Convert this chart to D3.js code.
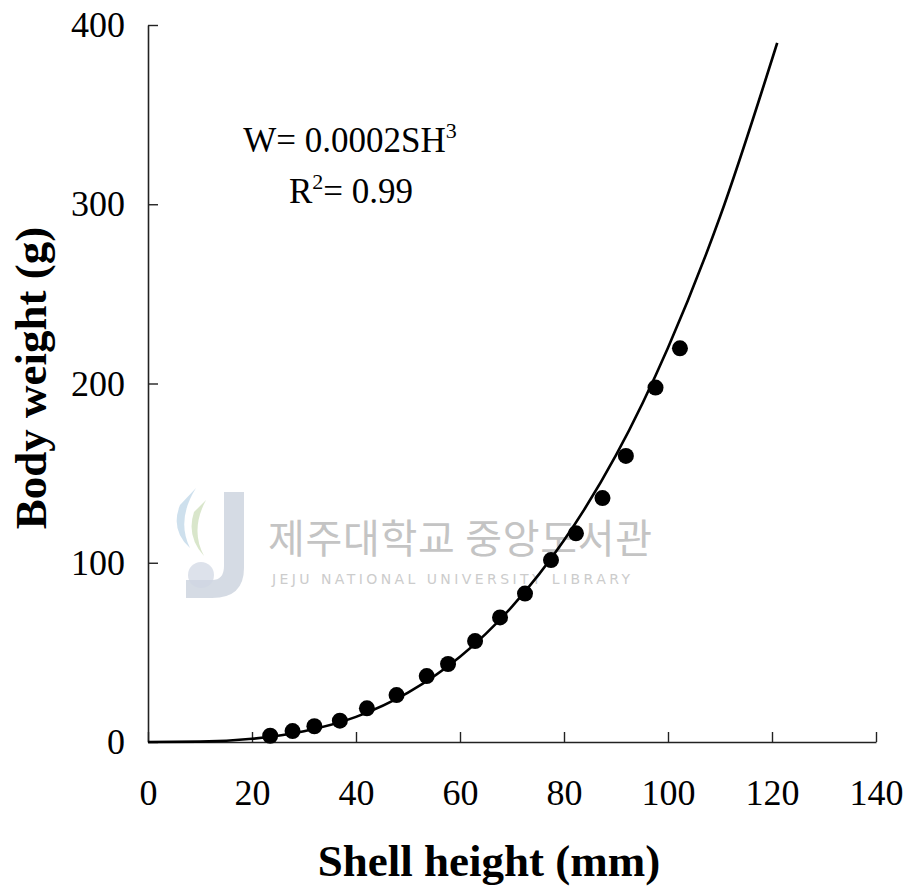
<!DOCTYPE html>
<html>
<head>
<meta charset="utf-8">
<script src="https://cdn.jsdelivr.net/npm/d3@7"></script>
<style>
  body { margin: 0; background: #fff; }
  svg { display: block; }
</style>
</head>
<body>
<div id="chart"></div>
<script>
// observed points (shell height mm, body weight g)
const shellHeight = [23.5, 27.8, 32.0, 36.9, 42.1, 47.8, 53.6, 57.7, 62.9, 67.7, 72.5, 77.5, 82.3, 87.4, 91.9, 97.6, 102.3];
const bodyWeight  = [3.5, 6.1, 8.8, 11.9, 18.8, 26.2, 36.8, 43.5, 56.3, 69.5, 82.8, 101.5, 116.4, 136.1, 159.6, 197.7, 219.6];

// fitted curve
const fitX = [0, 10, 20, 30, 40, 50, 60, 70, 80, 90, 100, 110, 121];
const fitY = [0, 0.2, 1.8, 6, 14, 27.5, 47.5, 75.5, 112.5, 160, 220, 293, 390];

const xTicks = [0, 20, 40, 60, 80, 100, 120, 140];
const yTicks = [0, 100, 200, 300, 400];

const width = 911, height = 890;
const serif = "'Liberation Serif', 'Times New Roman', serif";

const x = d3.scaleLinear().domain([0, 140]).range([148, 876]);
const y = d3.scaleLinear().domain([0, 400]).range([742, 25]);

const svg = d3.select("#chart").append("svg")
    .attr("width", width)
    .attr("height", height)
    .attr("font-family", serif);

// watermark (library stamp)
const wm = svg.append("g");
wm.append("path")
    .attr("d", "M224,492 L244,492 L244,568 Q244,598 212,598 L186,598 L186,580 L212,580 Q224,580 224,566 Z")
    .attr("fill", "#c3ccd8").attr("opacity", 0.7);
wm.append("path")
    .attr("d", "M196,488 Q176,520 190,548 Q170,530 180,505 Z")
    .attr("fill", "#b9d3e6").attr("opacity", 0.7);
wm.append("path")
    .attr("d", "M206,500 Q190,530 204,556 Q186,536 194,512 Z")
    .attr("fill", "#c9dcb5").attr("opacity", 0.7);
wm.append("circle")
    .attr("cx", 201).attr("cy", 575).attr("r", 13)
    .attr("fill", "#cfd6e2").attr("opacity", 0.7);
wm.append("text")
    .attr("x", 268).attr("y", 553)
    .attr("font-family", "'Noto Sans CJK KR', sans-serif")
    .attr("font-size", 40)
    .attr("fill", "#c4c4c4")
    .attr("textLength", 384)
    .text("제주대학교 중앙도서관");
wm.append("text")
    .attr("x", 272).attr("y", 584)
    .attr("font-family", "'DejaVu Sans', sans-serif")
    .attr("font-size", 14)
    .attr("fill", "#cccccc")
    .attr("textLength", 358)
    .text("JEJU NATIONAL UNIVERSITY LIBRARY");

// axes
const xAxis = svg.append("g")
    .attr("transform", `translate(0,${y(0)})`)
    .call(d3.axisBottom(x).tickValues(xTicks).tickSizeInner(-10).tickSizeOuter(0).tickPadding(37));

const yAxis = svg.append("g")
    .attr("transform", `translate(${x(0)},0)`)
    .call(d3.axisLeft(y).tickValues(yTicks).tickSizeInner(-10).tickSizeOuter(0).tickPadding(23));

[xAxis, yAxis].forEach(g => {
  g.attr("font-family", serif).attr("font-size", 36);
  g.select(".domain").attr("stroke", "#222").attr("stroke-width", 1.6);
  g.selectAll(".tick line").attr("stroke", "#222").attr("stroke-width", 1.4);
  g.selectAll(".tick text").attr("fill", "#000");
});

// fitted curve
const line = d3.line()
    .x(i => x(fitX[i]))
    .y(i => y(fitY[i]))
    .curve(d3.curveMonotoneX);

svg.append("path")
    .attr("d", line(d3.range(fitX.length)))
    .attr("fill", "none")
    .attr("stroke", "#000")
    .attr("stroke-width", 2.6);

// observed points
svg.append("g")
  .selectAll("circle")
  .data(d3.range(shellHeight.length))
  .join("circle")
    .attr("cx", i => x(shellHeight[i]))
    .attr("cy", i => y(bodyWeight[i]))
    .attr("r", 8)
    .attr("fill", "#000");

// equation
const eq = svg.append("g").attr("font-size", 35).attr("fill", "#000");
const t1 = eq.append("text").attr("x", 350).attr("y", 152).attr("text-anchor", "middle");
t1.append("tspan").text("W= 0.0002SH");
t1.append("tspan").attr("font-size", 22).attr("dy", -14).text("3");

const t2 = eq.append("text").attr("x", 351).attr("y", 203).attr("text-anchor", "middle");
t2.append("tspan").text("R");
t2.append("tspan").attr("font-size", 22).attr("dy", -14).text("2");
t2.append("tspan").attr("dy", 14).text("= 0.99");

// axis titles
svg.append("text")
    .attr("x", 489).attr("y", 876)
    .attr("text-anchor", "middle")
    .attr("font-size", 45)
    .attr("font-weight", "bold")
    .text("Shell height (mm)");

svg.append("text")
    .attr("transform", `translate(46,378) rotate(-90)`)
    .attr("text-anchor", "middle")
    .attr("font-size", 45)
    .attr("font-weight", "bold")
    .text("Body weight (g)");
</script>
</body>
</html>
